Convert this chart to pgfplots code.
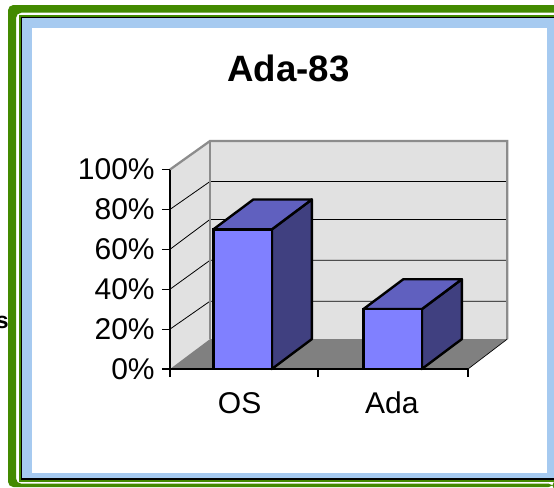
\documentclass[border=0pt]{standalone}
\usepackage{pgfplots}
\pgfplotsset{compat=1.18}
\usepackage{fontspec}
\setmainfont{Liberation Sans}
\definecolor{framegreen}{HTML}{438A00}
\definecolor{paneblue}{HTML}{A6CAF0}
\definecolor{wallgray}{HTML}{E1E1E1}
\definecolor{wallline}{HTML}{8C8C8C}
\definecolor{floorgray}{HTML}{808080}
\definecolor{barfront}{HTML}{8080FF}
\definecolor{bartop}{HTML}{6060BF}
\definecolor{barside}{HTML}{404080}
\begin{document}
\begin{tikzpicture}
\begin{scope}[x=0.75pt,y=-0.75pt]
\path[use as bounding box] (0,0) rectangle (554,487);
\fill[white] (0,0) rectangle (554,487);
% outer frame
\fill[framegreen,rounded corners=4pt] (8,5) -- (570,5) -- (570,12.7) -- (16,12.7) -- (16,483.7) -- (554,483.7) -- (554,487) -- (8,487) -- cycle;
% inner frame
\fill[framegreen] (19,14.5) rectangle (554,481.7);
\fill[black] (21,16.5) rectangle (554,480);
\fill[paneblue] (22,18) rectangle (554,478);
\fill[white] (32,28) rectangle (546.7,473);
\node[font=\bfseries\fontsize{17.2}{20}\selectfont,inner sep=0pt,anchor=base east] at (9,328) {s};
\node[font=\bfseries\fontsize{27.5}{32}\selectfont,inner sep=0pt,anchor=base] at (288.5,81) {Ada-83};
\end{scope}
\begin{axis}[
  at={(127.5pt,-276.75pt)},anchor=south west,
  scale only axis,width=223.5pt,height=149.6pt,
  clip=false,axis on top,
  xmin=-0.484,xmax=1.503,ymin=0,ymax=100,
  axis x line=bottom,axis y line=left,
  axis line style={-,black,line width=0.9pt},
  major tick style={black,line width=0.8pt},
  major tick length=6pt,
  tick align=outside,
  xtick={-0.484,0.503,1.503},xticklabels={},
  extra x ticks={-0.02,0.995},
  extra x tick labels={OS,Ada},
  extra x tick style={major tick length=0pt,xticklabel style={yshift=-13.5pt,text height=16.4pt}},
  ytick={0,20,40,60,80,100},
  yticklabel={\pgfmathprintnumber{\tick}\%},
  yticklabel style={xshift=-2pt},
  /pgf/number format/assume math mode=true,
  tick label style={font=\fontsize{22.5}{27}\selectfont},
  ylabel={},
]
% left wall and back wall
\addplot[fill=wallgray,draw=none] coordinates {(-0.484,0)(-0.2173,15)(-0.2173,114.3)(-0.484,100)} -- cycle;
\addplot[fill=wallgray,draw=none] coordinates {(-0.2173,15)(1.765,15)(1.765,114.3)(-0.2173,114.3)} -- cycle;
% gridlines
\addplot[black,line width=0.6pt] coordinates {(-0.484,20)(-0.2173,34)(1.765,34)};
\addplot[black,line width=0.6pt] coordinates {(-0.484,40)(-0.2173,54.5)(1.765,54.5)};
\addplot[black,line width=0.6pt] coordinates {(-0.484,60)(-0.2173,75)(1.765,75)};
\addplot[black,line width=0.6pt] coordinates {(-0.484,80)(-0.2173,94)(1.765,94)};
% wall border
\addplot[wallline,line width=1.7pt] coordinates {(-0.484,100)(-0.2173,114.3)(1.765,114.3)(1.765,15)};
\addplot[wallline,line width=1.7pt] coordinates {(-0.2173,114.3)(-0.2173,15)};
% floor
\addplot[fill=floorgray,draw=none] coordinates {(-0.484,0)(-0.2173,15)(1.765,15)(1.503,0)} -- cycle;
\addplot[black,line width=0.5pt] coordinates {(1.503,0)(1.765,15)};
% OS bar
\addplot[fill=barside,draw=black,line width=1.8pt,line join=round] coordinates {(0.195,0)(0.4617,15)(0.4617,85)(0.195,70)} -- cycle;
\addplot[fill=bartop,draw=black,line width=1.8pt,line join=round] coordinates {(-0.195,70)(0.0717,85)(0.4617,85)(0.195,70)} -- cycle;
\addplot[ybar,bar width=0.39,bar shift=0pt,fill=barfront,draw=black,line width=1.8pt] coordinates {(0,70)};
% Ada bar
\addplot[fill=barside,draw=black,line width=1.8pt,line join=round] coordinates {(1.195,0)(1.4617,15)(1.4617,45)(1.195,30)} -- cycle;
\addplot[fill=bartop,draw=black,line width=1.8pt,line join=round] coordinates {(0.805,30)(1.0717,45)(1.4617,45)(1.195,30)} -- cycle;
\addplot[ybar,bar width=0.39,bar shift=0pt,fill=barfront,draw=black,line width=1.8pt] coordinates {(1,30)};
\end{axis}
\end{tikzpicture}
\end{document}
